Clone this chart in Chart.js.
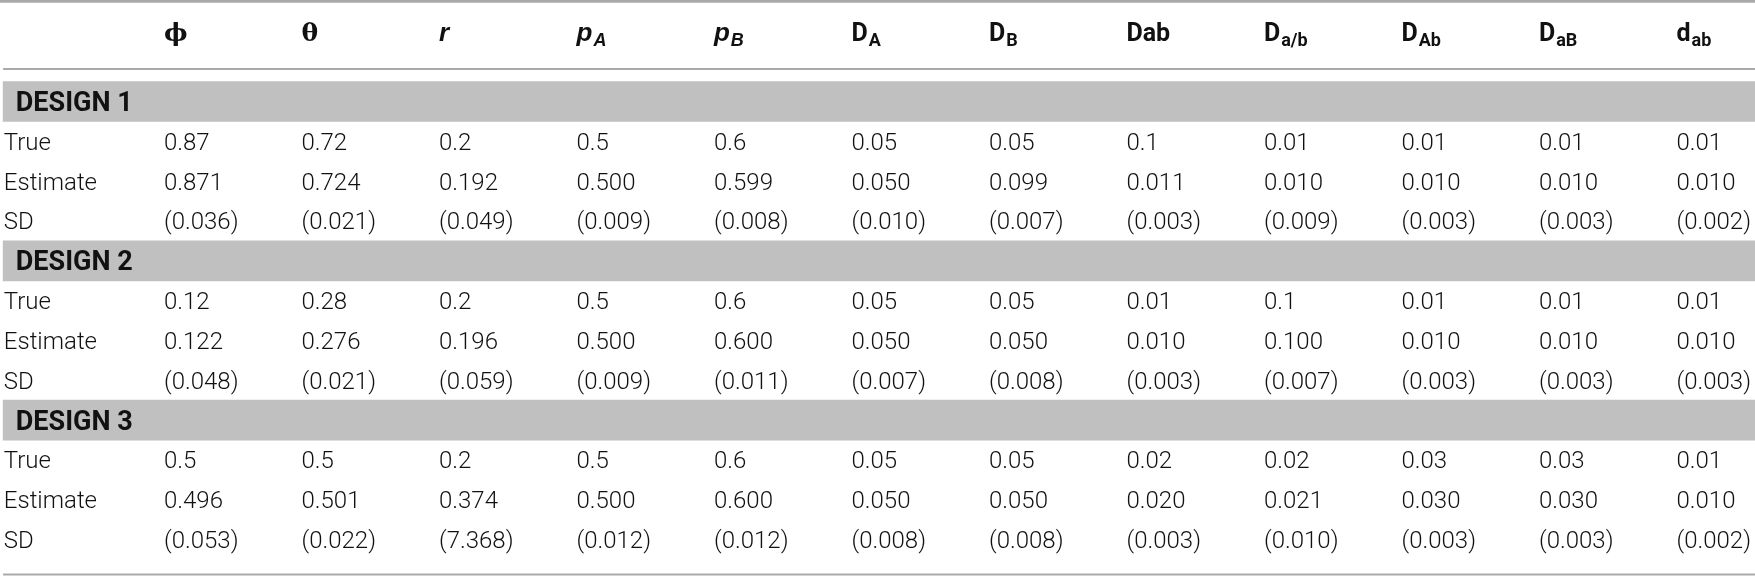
<!DOCTYPE html>
<html>
<head>
<meta charset="utf-8">
<script src="https://cdn.jsdelivr.net/npm/chart.js@4.4.1/dist/chart.umd.min.js"></script>
<style>
  html, body { margin: 0; padding: 0; background: #fff; }
  #wrap { width: 1755px; height: 576px; }
</style>
</head>
<body>
<div id="wrap"><canvas id="tabla" width="1755" height="576"></canvas></div>
<script>
// Encabezados de columna (símbolo + subíndice)
const columnas = ['ϕ', 'θ', 'r', 'p', 'p', 'D', 'D', 'Dab', 'D', 'D', 'D', 'd'];
const subindices = ['', '', '', 'A', 'B', 'A', 'B', '', 'a/b', 'Ab', 'aB', 'ab'];
const filas = ['True', 'Estimate', 'SD'];
const disenos = ['DESIGN 1', 'DESIGN 2', 'DESIGN 3'];

// Diseño 1
const verdadero1 = [0.87, 0.72, 0.2, 0.5, 0.6, 0.05, 0.05, 0.1, 0.01, 0.01, 0.01, 0.01];
const estimado1 = [0.871, 0.724, 0.192, 0.500, 0.599, 0.050, 0.099, 0.011, 0.010, 0.010, 0.010, 0.010];
const desv1 = [0.036, 0.021, 0.049, 0.009, 0.008, 0.010, 0.007, 0.003, 0.009, 0.003, 0.003, 0.002];
// Diseño 2
const verdadero2 = [0.12, 0.28, 0.2, 0.5, 0.6, 0.05, 0.05, 0.01, 0.1, 0.01, 0.01, 0.01];
const estimado2 = [0.122, 0.276, 0.196, 0.500, 0.600, 0.050, 0.050, 0.010, 0.100, 0.010, 0.010, 0.010];
const desv2 = [0.048, 0.021, 0.059, 0.009, 0.011, 0.007, 0.008, 0.003, 0.007, 0.003, 0.003, 0.003];
// Diseño 3
const verdadero3 = [0.5, 0.5, 0.2, 0.5, 0.6, 0.05, 0.05, 0.02, 0.02, 0.03, 0.03, 0.01];
const estimado3 = [0.496, 0.501, 0.374, 0.500, 0.600, 0.050, 0.050, 0.020, 0.021, 0.030, 0.030, 0.010];
const desv3 = [0.053, 0.022, 7.368, 0.012, 0.012, 0.008, 0.008, 0.003, 0.010, 0.003, 0.003, 0.002];

const bloques = [
  [verdadero1, estimado1, desv1],
  [verdadero2, estimado2, desv2],
  [verdadero3, estimado3, desv3]
];

// escalas: columna k -> x = k, fila r -> y = r
const xMin = -0.1927, xMax = 12.571;
const yMin = -1.548, yMax = 12.914;
const colEtiqueta = -0.165;
const filaEncabezado = -0.73;

const formatear = [
  v => String(v),
  v => v.toFixed(3),
  v => '(' + v.toFixed(3) + ')'
];

// celdas de texto
const celdas = [];
const bandas = [];
const titulos = [];
bloques.forEach((bloque, d) => {
  const filaBanda = 1 + 4 * d;
  bandas.push({ y: filaBanda, x: [colEtiqueta - 0.005, xMax] });
  titulos.push({ x: colEtiqueta, y: filaBanda, texto: disenos[d] });
  bloque.forEach((serie, i) => {
    const fila = filaBanda + 1 + i;
    celdas.push({ x: colEtiqueta, y: fila, texto: filas[i] });
    serie.forEach((v, k) => {
      celdas.push({ x: k + 1, y: fila, texto: formatear[i](v) });
    });
  });
});
const encabezados = columnas.map((c, k) => ({ x: k + 1, y: filaEncabezado, base: c, sub: subindices[k] }));

function regla(y, desde, grosor) {
  return {
    type: 'line',
    data: [{ x: desde, y: y }, { x: xMax, y: y }],
    borderColor: '#a9a9a9',
    borderWidth: grosor,
    pointRadius: 0,
    clip: false,
    order: 1
  };
}

const textoTabla = {
  id: 'textoTabla',
  afterDatasetsDraw(chart) {
    const ctx = chart.ctx;
    ctx.save();
    ctx.textAlign = 'left';
    ctx.textBaseline = 'alphabetic';
    chart.data.datasets.forEach((ds, i) => {
      if (!ds.tipoTexto) return;
      const meta = chart.getDatasetMeta(i);
      meta.data.forEach((el, j) => {
        const raw = ds.data[j];
        if (ds.tipoTexto === 'celda') {
          ctx.fillStyle = '#111';
          ctx.font = '300 24px Roboto';
          ctx.fillText(raw.texto, el.x, el.y + 8.5);
        } else if (ds.tipoTexto === 'titulo') {
          ctx.fillStyle = '#111';
          ctx.font = 'bold 27px Roboto';
          ctx.fillText(raw.texto, el.x + 12, el.y + 9.5);
        } else {
          dibujarEncabezado(ctx, el.x, el.y + 8.4, raw.base, raw.sub);
        }
      });
    });
    ctx.restore();
  }
};

function dibujarEncabezado(ctx, x, y, base, sub) {
  const cursiva = base === 'r' || base === 'p';
  const griega = base === 'ϕ' || base === 'θ';
  ctx.fillStyle = '#111';
  if (griega) ctx.font = 'bold 25px "DejaVu Serif"';
  else if (cursiva) ctx.font = 'italic bold 26px "Liberation Sans"';
  else ctx.font = 'bold 25px Roboto';
  ctx.fillText(base, x, y);
  if (sub) {
    const w = ctx.measureText(base).width;
    ctx.font = cursiva ? 'italic bold 18px "Liberation Sans"' : 'bold 18px Roboto';
    ctx.fillText(sub, x + w + 1, y + 5);
  }
}

new Chart(document.getElementById('tabla').getContext('2d'), {
  type: 'scatter',
  data: {
    datasets: [
      {
        type: 'bar',
        indexAxis: 'y',
        data: bandas,
        backgroundColor: '#c0c0c0',
        borderWidth: 0,
        barThickness: 40,
        grouped: false,
        order: 2
      },
      regla(yMin + 0.033, xMin, 3),
      regla(0.1845, colEtiqueta - 0.005, 2),
      regla(12.877, colEtiqueta - 0.005, 2),
      { data: celdas, tipoTexto: 'celda', pointRadius: 0, order: 0 },
      { data: titulos, tipoTexto: 'titulo', pointRadius: 0, order: 0 },
      { data: encabezados, tipoTexto: 'encabezado', pointRadius: 0, order: 0 }
    ]
  },
  options: {
    responsive: false,
    animation: false,
    devicePixelRatio: 1,
    layout: { padding: 0 },
    plugins: {
      legend: { display: false },
      tooltip: { enabled: false }
    },
    scales: {
      x: { type: 'linear', min: xMin, max: xMax, display: false, offset: false },
      y: { type: 'linear', min: yMin, max: yMax, reverse: true, display: false, offset: false }
    }
  },
  plugins: [textoTabla]
});
</script>
</body>
</html>
